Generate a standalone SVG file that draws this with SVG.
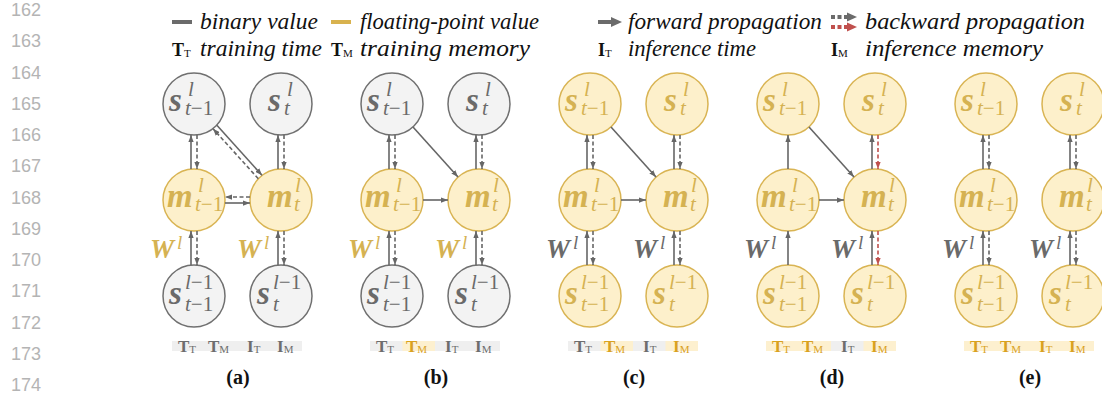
<svg xmlns="http://www.w3.org/2000/svg" width="1102" height="396" viewBox="0 0 1102 396">
<defs>
<style>
.ln{font-family:"Liberation Sans",Arial,sans-serif;font-size:18px;fill:#b4b4b4;text-anchor:end}
.lg{font-family:"Liberation Serif","Times New Roman",serif;font-style:italic;font-size:23px;fill:#111}
.lb{font-family:"Liberation Serif","Times New Roman",serif;font-weight:bold;font-size:18px;fill:#111}
.ls{font-family:"Liberation Serif","Times New Roman",serif;font-size:11px;font-weight:normal}
.gn{fill:#f3f3f3;stroke:#707070;stroke-width:1.5}
.yn{fill:#fdf0cb;stroke:#d9b453;stroke-width:1.5}
.mb{font-family:"Liberation Serif","Times New Roman",serif;font-weight:bold;font-style:italic;font-size:33px}
.mi{font-family:"Liberation Serif","Times New Roman",serif;font-style:italic;font-size:21px}
.wb{font-family:"Liberation Serif","Times New Roman",serif;font-weight:bold;font-style:italic;font-size:27px}
.wi{font-family:"Liberation Serif","Times New Roman",serif;font-style:italic;font-size:19px}
.up{font-style:normal}
.gt{fill:#6a6a6a}
.yt{fill:#d5b252}
.wg{fill:#6a6a6a}
.wy{fill:#d5b252}
.sa{stroke:#666;stroke-width:1.6;fill:none;marker-end:url(#ag)}
.da{stroke:#666;stroke-width:1.6;fill:none;stroke-dasharray:4 2.5;marker-end:url(#ag)}
.ra{stroke:#c0504d;stroke-width:1.6;fill:none;stroke-dasharray:4 2.5;marker-end:url(#ar)}
.bg{fill:#efefef}
.by{fill:#fdf0cf}
.bt{font-family:"Liberation Serif","Times New Roman",serif;font-weight:bold;font-size:17px}
.bgt{fill:#6d6d6d}
.byt{fill:#d9a21f}
.cap{font-family:"Liberation Serif","Times New Roman",serif;font-weight:bold;font-size:20px;fill:#111;text-anchor:middle}
</style>
<marker id="ag" viewBox="0 0 8 6" refX="8" refY="3" markerWidth="7" markerHeight="5.5" markerUnits="userSpaceOnUse" orient="auto"><path d="M0,0L8,3L0,6z" fill="#666"/></marker>
<marker id="ar" viewBox="0 0 8 6" refX="8" refY="3" markerWidth="7" markerHeight="5.5" markerUnits="userSpaceOnUse" orient="auto"><path d="M0,0L8,3L0,6z" fill="#c0504d"/></marker>
</defs>

<g id="line-numbers">
<text class="ln" x="41" y="16">162</text>
<text class="ln" x="41" y="47">163</text>
<text class="ln" x="41" y="79">164</text>
<text class="ln" x="41" y="110">165</text>
<text class="ln" x="41" y="141">166</text>
<text class="ln" x="41" y="172">167</text>
<text class="ln" x="41" y="204">168</text>
<text class="ln" x="41" y="235">169</text>
<text class="ln" x="41" y="266">170</text>
<text class="ln" x="41" y="297">171</text>
<text class="ln" x="41" y="329">172</text>
<text class="ln" x="41" y="360">173</text>
<text class="ln" x="41" y="391">174</text>
</g>

<g id="legend">
<line x1="172" y1="22" x2="192" y2="22" stroke="#6b6b6b" stroke-width="4"/>
<text class="lg" x="200" y="29" textLength="118" lengthAdjust="spacingAndGlyphs">binary value</text>
<line x1="331" y1="22" x2="351" y2="22" stroke="#d8b24e" stroke-width="4"/>
<text class="lg" x="360" y="29" textLength="179" lengthAdjust="spacingAndGlyphs">floating-point value</text>
<line x1="598" y1="22" x2="612" y2="22" stroke="#6b6b6b" stroke-width="4"/>
<path d="M611,17L622,22L611,27z" fill="#6b6b6b"/>
<text class="lg" x="628" y="29" textLength="194" lengthAdjust="spacingAndGlyphs">forward propagation</text>
<line x1="831" y1="17" x2="848" y2="17" stroke="#6b6b6b" stroke-width="4" stroke-dasharray="4 2.5"/>
<path d="M847,12.5L857,17L847,21.5z" fill="#6b6b6b"/>
<line x1="831" y1="27" x2="848" y2="27" stroke="#c0504d" stroke-width="4" stroke-dasharray="4 2.5"/>
<path d="M847,22.5L857,27L847,31.5z" fill="#c0504d"/>
<text class="lg" x="865" y="29" textLength="220" lengthAdjust="spacingAndGlyphs">backward propagation</text>
<text class="lb" x="172" y="56">T<tspan class="ls" dy="1">T</tspan></text>
<text class="lg" x="200" y="56" textLength="122" lengthAdjust="spacingAndGlyphs">training time</text>
<text class="lb" x="331" y="56">T<tspan class="ls" dy="1">M</tspan></text>
<text class="lg" x="360" y="56" textLength="170" lengthAdjust="spacingAndGlyphs">training memory</text>
<text class="lb" x="598" y="56">I<tspan class="ls" dy="1">T</tspan></text>
<text class="lg" x="628" y="56" textLength="128" lengthAdjust="spacingAndGlyphs">inference time</text>
<text class="lb" x="831" y="56">I<tspan class="ls" dy="1">M</tspan></text>
<text class="lg" x="865" y="56" textLength="178" lengthAdjust="spacingAndGlyphs">inference memory</text>
</g>

<!-- Panel (a): L=194 R=281 -->
<g id="panel-a">
<g id="a-s-top-l"><circle class="gn" cx="194" cy="104" r="31"/><g class="gt"><text class="mb" x="169" y="111">s</text><text class="mi" x="188" y="96">l</text><text class="mi" x="185" y="115">t<tspan class="up">−1</tspan></text></g></g>
<g id="a-s-top-r"><circle class="gn" cx="281" cy="104" r="31"/><g class="gt"><text class="mb" x="268" y="111">s</text><text class="mi" x="287" y="96">l</text><text class="mi" x="284" y="115">t</text></g></g>
<g id="a-m-l"><circle class="yn" cx="194" cy="200" r="31"/><g class="yt"><text class="mb" x="167" y="207">m</text><text class="mi" x="198" y="192">l</text><text class="mi" x="195" y="211">t<tspan class="up">−1</tspan></text></g></g>
<g id="a-m-r"><circle class="yn" cx="281" cy="200" r="31"/><g class="yt"><text class="mb" x="267" y="207">m</text><text class="mi" x="295" y="192">l</text><text class="mi" x="294" y="211">t</text></g></g>
<g id="a-s-bot-l"><circle class="gn" cx="194" cy="296" r="31"/><g class="gt"><text class="mb" x="169" y="304">s</text><text class="mi" x="185" y="289">l<tspan class="up">−1</tspan></text><text class="mi" x="185" y="311">t<tspan class="up">−1</tspan></text></g></g>
<g id="a-s-bot-r"><circle class="gn" cx="281" cy="296" r="31"/><g class="gt"><text class="mb" x="257" y="304">s</text><text class="mi" x="273" y="289">l<tspan class="up">−1</tspan></text><text class="mi" x="273" y="311">t</text></g></g>
<g id="a-w"><text class="wb wy" x="150" y="258">W</text><text class="wi wy" x="177" y="249">l</text><text class="wb wy" x="237" y="258">W</text><text class="wi wy" x="264" y="249">l</text></g>
<g id="a-bar"><rect class="bg" x="172" y="341" width="130" height="10"/>
<text class="bt bgt" x="178" y="352">T<tspan class="ls" dy="1">T</tspan></text><text class="bt bgt" x="208" y="352">T<tspan class="ls" dy="1">M</tspan></text><text class="bt bgt" x="247" y="352">I<tspan class="ls" dy="1">T</tspan></text><text class="bt bgt" x="277" y="352">I<tspan class="ls" dy="1">M</tspan></text></g>
<text class="cap" x="238" y="384">(a)</text>
</g>

<!-- Panel (b): L=392 R=479 -->
<g id="panel-b">
<g id="b-s-top-l"><circle class="gn" cx="392" cy="104" r="31"/><g class="gt"><text class="mb" x="367" y="111">s</text><text class="mi" x="386" y="96">l</text><text class="mi" x="383" y="115">t<tspan class="up">−1</tspan></text></g></g>
<g id="b-s-top-r"><circle class="gn" cx="479" cy="104" r="31"/><g class="gt"><text class="mb" x="466" y="111">s</text><text class="mi" x="485" y="96">l</text><text class="mi" x="482" y="115">t</text></g></g>
<g id="b-m-l"><circle class="yn" cx="392" cy="200" r="31"/><g class="yt"><text class="mb" x="365" y="207">m</text><text class="mi" x="396" y="192">l</text><text class="mi" x="393" y="211">t<tspan class="up">−1</tspan></text></g></g>
<g id="b-m-r"><circle class="yn" cx="479" cy="200" r="31"/><g class="yt"><text class="mb" x="465" y="207">m</text><text class="mi" x="493" y="192">l</text><text class="mi" x="492" y="211">t</text></g></g>
<g id="b-s-bot-l"><circle class="gn" cx="392" cy="296" r="31"/><g class="gt"><text class="mb" x="367" y="304">s</text><text class="mi" x="383" y="289">l<tspan class="up">−1</tspan></text><text class="mi" x="383" y="311">t<tspan class="up">−1</tspan></text></g></g>
<g id="b-s-bot-r"><circle class="gn" cx="479" cy="296" r="31"/><g class="gt"><text class="mb" x="455" y="304">s</text><text class="mi" x="471" y="289">l<tspan class="up">−1</tspan></text><text class="mi" x="471" y="311">t</text></g></g>
<g id="b-w"><text class="wb wy" x="348" y="258">W</text><text class="wi wy" x="375" y="249">l</text><text class="wb wy" x="435" y="258">W</text><text class="wi wy" x="462" y="249">l</text></g>
<g id="b-bar"><rect class="bg" x="370" y="341" width="130" height="10"/><rect class="by" x="402.5" y="341" width="32.5" height="10"/>
<text class="bt bgt" x="376" y="352">T<tspan class="ls" dy="1">T</tspan></text><text class="bt byt" x="406" y="352">T<tspan class="ls" dy="1">M</tspan></text><text class="bt bgt" x="445" y="352">I<tspan class="ls" dy="1">T</tspan></text><text class="bt bgt" x="475" y="352">I<tspan class="ls" dy="1">M</tspan></text></g>
<text class="cap" x="436" y="384">(b)</text>
</g>

<!-- Panel (c): L=590 R=677 -->
<g id="panel-c">
<g id="c-s-top-l"><circle class="yn" cx="590" cy="104" r="31"/><g class="yt"><text class="mb" x="565" y="111">s</text><text class="mi" x="584" y="96">l</text><text class="mi" x="581" y="115">t<tspan class="up">−1</tspan></text></g></g>
<g id="c-s-top-r"><circle class="yn" cx="677" cy="104" r="31"/><g class="yt"><text class="mb" x="664" y="111">s</text><text class="mi" x="683" y="96">l</text><text class="mi" x="680" y="115">t</text></g></g>
<g id="c-m-l"><circle class="yn" cx="590" cy="200" r="31"/><g class="yt"><text class="mb" x="563" y="207">m</text><text class="mi" x="594" y="192">l</text><text class="mi" x="591" y="211">t<tspan class="up">−1</tspan></text></g></g>
<g id="c-m-r"><circle class="yn" cx="677" cy="200" r="31"/><g class="yt"><text class="mb" x="663" y="207">m</text><text class="mi" x="691" y="192">l</text><text class="mi" x="690" y="211">t</text></g></g>
<g id="c-s-bot-l"><circle class="yn" cx="590" cy="296" r="31"/><g class="yt"><text class="mb" x="565" y="304">s</text><text class="mi" x="581" y="289">l<tspan class="up">−1</tspan></text><text class="mi" x="581" y="311">t<tspan class="up">−1</tspan></text></g></g>
<g id="c-s-bot-r"><circle class="yn" cx="677" cy="296" r="31"/><g class="yt"><text class="mb" x="653" y="304">s</text><text class="mi" x="669" y="289">l<tspan class="up">−1</tspan></text><text class="mi" x="669" y="311">t</text></g></g>
<g id="c-w"><text class="wb wg" x="546" y="258">W</text><text class="wi wg" x="573" y="249">l</text><text class="wb wg" x="633" y="258">W</text><text class="wi wg" x="660" y="249">l</text></g>
<g id="c-bar"><rect class="bg" x="568" y="341" width="130" height="10"/><rect class="by" x="600.5" y="341" width="32.5" height="10"/><rect class="by" x="665.5" y="341" width="32.5" height="10"/>
<text class="bt bgt" x="574" y="352">T<tspan class="ls" dy="1">T</tspan></text><text class="bt byt" x="604" y="352">T<tspan class="ls" dy="1">M</tspan></text><text class="bt bgt" x="643" y="352">I<tspan class="ls" dy="1">T</tspan></text><text class="bt byt" x="673" y="352">I<tspan class="ls" dy="1">M</tspan></text></g>
<text class="cap" x="634" y="384">(c)</text>
</g>

<!-- Panel (d): L=788 R=875 -->
<g id="panel-d">
<g id="d-s-top-l"><circle class="yn" cx="788" cy="104" r="31"/><g class="yt"><text class="mb" x="763" y="111">s</text><text class="mi" x="782" y="96">l</text><text class="mi" x="779" y="115">t<tspan class="up">−1</tspan></text></g></g>
<g id="d-s-top-r"><circle class="yn" cx="875" cy="104" r="31"/><g class="yt"><text class="mb" x="862" y="111">s</text><text class="mi" x="881" y="96">l</text><text class="mi" x="878" y="115">t</text></g></g>
<g id="d-m-l"><circle class="yn" cx="788" cy="200" r="31"/><g class="yt"><text class="mb" x="761" y="207">m</text><text class="mi" x="792" y="192">l</text><text class="mi" x="789" y="211">t<tspan class="up">−1</tspan></text></g></g>
<g id="d-m-r"><circle class="yn" cx="875" cy="200" r="31"/><g class="yt"><text class="mb" x="861" y="207">m</text><text class="mi" x="889" y="192">l</text><text class="mi" x="888" y="211">t</text></g></g>
<g id="d-s-bot-l"><circle class="yn" cx="788" cy="296" r="31"/><g class="yt"><text class="mb" x="763" y="304">s</text><text class="mi" x="779" y="289">l<tspan class="up">−1</tspan></text><text class="mi" x="779" y="311">t<tspan class="up">−1</tspan></text></g></g>
<g id="d-s-bot-r"><circle class="yn" cx="875" cy="296" r="31"/><g class="yt"><text class="mb" x="851" y="304">s</text><text class="mi" x="867" y="289">l<tspan class="up">−1</tspan></text><text class="mi" x="867" y="311">t</text></g></g>
<g id="d-w"><text class="wb wg" x="744" y="258">W</text><text class="wi wg" x="771" y="249">l</text><text class="wb wg" x="831" y="258">W</text><text class="wi wg" x="858" y="249">l</text></g>
<g id="d-bar"><rect class="bg" x="766" y="341" width="130" height="10"/><rect class="by" x="766" y="341" width="65" height="10"/><rect class="by" x="863.5" y="341" width="32.5" height="10"/>
<text class="bt byt" x="772" y="352">T<tspan class="ls" dy="1">T</tspan></text><text class="bt byt" x="802" y="352">T<tspan class="ls" dy="1">M</tspan></text><text class="bt bgt" x="841" y="352">I<tspan class="ls" dy="1">T</tspan></text><text class="bt byt" x="871" y="352">I<tspan class="ls" dy="1">M</tspan></text></g>
<text class="cap" x="832" y="384">(d)</text>
</g>

<!-- Panel (e): L=986 R=1073 -->
<g id="panel-e">
<g id="e-s-top-l"><circle class="yn" cx="986" cy="104" r="31"/><g class="yt"><text class="mb" x="961" y="111">s</text><text class="mi" x="980" y="96">l</text><text class="mi" x="977" y="115">t<tspan class="up">−1</tspan></text></g></g>
<g id="e-s-top-r"><circle class="yn" cx="1073" cy="104" r="31"/><g class="yt"><text class="mb" x="1060" y="111">s</text><text class="mi" x="1079" y="96">l</text><text class="mi" x="1076" y="115">t</text></g></g>
<g id="e-m-l"><circle class="yn" cx="986" cy="200" r="31"/><g class="yt"><text class="mb" x="959" y="207">m</text><text class="mi" x="990" y="192">l</text><text class="mi" x="987" y="211">t<tspan class="up">−1</tspan></text></g></g>
<g id="e-m-r"><circle class="yn" cx="1073" cy="200" r="31"/><g class="yt"><text class="mb" x="1059" y="207">m</text><text class="mi" x="1087" y="192">l</text><text class="mi" x="1086" y="211">t</text></g></g>
<g id="e-s-bot-l"><circle class="yn" cx="986" cy="296" r="31"/><g class="yt"><text class="mb" x="961" y="304">s</text><text class="mi" x="977" y="289">l<tspan class="up">−1</tspan></text><text class="mi" x="977" y="311">t<tspan class="up">−1</tspan></text></g></g>
<g id="e-s-bot-r"><circle class="yn" cx="1073" cy="296" r="31"/><g class="yt"><text class="mb" x="1049" y="304">s</text><text class="mi" x="1065" y="289">l<tspan class="up">−1</tspan></text><text class="mi" x="1065" y="311">t</text></g></g>
<g id="e-w"><text class="wb wg" x="942" y="258">W</text><text class="wi wg" x="969" y="249">l</text><text class="wb wg" x="1029" y="258">W</text><text class="wi wg" x="1056" y="249">l</text></g>
<g id="e-bar"><rect class="by" x="964" y="341" width="130" height="10"/>
<text class="bt byt" x="970" y="352">T<tspan class="ls" dy="1">T</tspan></text><text class="bt byt" x="1000" y="352">T<tspan class="ls" dy="1">M</tspan></text><text class="bt byt" x="1039" y="352">I<tspan class="ls" dy="1">T</tspan></text><text class="bt byt" x="1069" y="352">I<tspan class="ls" dy="1">M</tspan></text></g>
<text class="cap" x="1030" y="384">(e)</text>
</g>

<g id="connectors">
<!-- (a) -->
<path class="sa" d="M191,169V135"/><path class="da" d="M197,135V169"/>
<path class="sa" d="M278,169V135"/><path class="da" d="M284,135V169"/>
<path class="sa" d="M191,265V231"/><path class="da" d="M197,231V265"/>
<path class="sa" d="M278,265V231"/><path class="da" d="M284,231V265"/>
<path class="da" d="M250,197H225"/><path class="sa" d="M225,203H250"/>
<path class="sa" d="M216.9,125.3L262,175.3"/><path class="da" d="M258.3,178.7L213,128.7"/>
<!-- (b) -->
<path class="sa" d="M389,169V135"/><path class="da" d="M395,135V169"/>
<path class="sa" d="M476,169V135"/><path class="da" d="M482,135V169"/>
<path class="sa" d="M389,265V231"/><path class="da" d="M395,231V265"/>
<path class="sa" d="M476,265V231"/><path class="da" d="M482,231V265"/>
<path class="sa" d="M423,200H448"/>
<path class="sa" d="M413,127L458,177"/>
<!-- (c) -->
<path class="sa" d="M587,169V135"/><path class="da" d="M593,135V169"/>
<path class="sa" d="M674,169V135"/><path class="da" d="M680,135V169"/>
<path class="sa" d="M587,265V231"/><path class="da" d="M593,231V265"/>
<path class="sa" d="M674,265V231"/><path class="da" d="M680,231V265"/>
<path class="sa" d="M621,200H646"/>
<path class="sa" d="M611,127L656,177"/>
<!-- (d) -->
<path class="sa" d="M788,169V135"/>
<path class="sa" d="M788,265V231"/>
<path class="sa" d="M872,169V135"/><path class="ra" d="M878,135V169"/>
<path class="sa" d="M872,265V231"/><path class="ra" d="M878,231V265"/>
<path class="sa" d="M819,200H844"/>
<path class="sa" d="M809,127L854,177"/>
<!-- (e) -->
<path class="sa" d="M983,169V135"/><path class="da" d="M989,135V169"/>
<path class="sa" d="M1070,169V135"/><path class="da" d="M1076,135V169"/>
<path class="sa" d="M983,265V231"/><path class="da" d="M989,231V265"/>
<path class="sa" d="M1070,265V231"/><path class="da" d="M1076,231V265"/>
</g>
</svg>
